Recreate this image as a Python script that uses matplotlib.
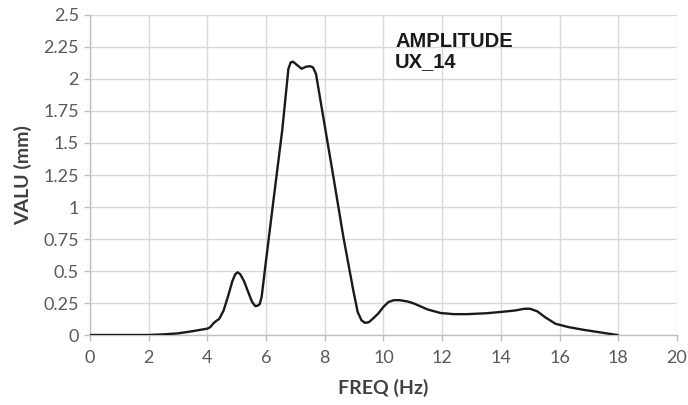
import numpy as np
import matplotlib
matplotlib.use('Agg')
import matplotlib.pyplot as plt

# values
freq = [0, 1, 2, 2.5, 3, 3.5, 4, 4.1, 4.2, 4.3, 4.4, 4.55, 4.7, 4.85, 4.95, 5.03, 5.12,
        5.25, 5.4, 5.52, 5.63, 5.7, 5.78, 5.85, 5.97, 6.25, 6.55, 6.76, 6.84, 6.92,
        7.05, 7.21, 7.35, 7.5, 7.6, 7.7, 7.95, 8.29, 8.63, 8.97, 9.12, 9.25, 9.37,
        9.5, 9.65, 9.83, 10.0, 10.17, 10.35, 10.55, 10.8, 11.03, 11.5, 11.94, 12.4,
        12.85, 13.5, 13.99, 14.5, 14.8, 15.0, 15.24, 15.5, 15.86, 16.3, 16.83,
        17.4, 17.97]
amp = [0, 0, 0, 0.005, 0.013, 0.03, 0.05, 0.062, 0.09, 0.11, 0.125, 0.19, 0.3, 0.42,
       0.475, 0.49, 0.475, 0.42, 0.33, 0.26, 0.226, 0.228, 0.24, 0.30, 0.53, 1.05,
       1.6, 2.08, 2.13, 2.135, 2.11, 2.08, 2.095, 2.1, 2.09, 2.04, 1.70, 1.24, 0.77,
       0.35, 0.18, 0.115, 0.095, 0.1, 0.13, 0.17, 0.22, 0.258, 0.272, 0.272, 0.263,
       0.247, 0.2, 0.172, 0.163, 0.163, 0.17, 0.18, 0.192, 0.205, 0.205, 0.185,
       0.14, 0.088, 0.062, 0.04, 0.02, 0.0]

x_ticks = [0, 2, 4, 6, 8, 10, 12, 14, 16, 18, 20]
y_ticks = [0, 0.25, 0.5, 0.75, 1, 1.25, 1.5, 1.75, 2, 2.25, 2.5]
y_labels = ['0', '0.25', '0.5', '0.75', '1', '1.25', '1.5', '1.75', '2', '2.25', '2.5']

plt.rcParams['font.family'] = ['Lato', 'DejaVu Sans']

fig = plt.figure(figsize=(6.88, 4.05), dpi=100)
ax = fig.add_axes([0.1308, 0.1728, 0.8532, 0.7902])

ax.plot(freq, amp, color='#1a1a1a', linewidth=1.7, solid_joinstyle='round', zorder=3)

ax.set_xlim(0, 20)
ax.set_ylim(0, 2.5)
ax.set_xticks(x_ticks)
ax.set_yticks(y_ticks)
ax.set_yticklabels(y_labels)
ax.grid(True, color='#d9d9d9', linewidth=1.0)
ax.set_axisbelow(True)
for s in ['top', 'right']:
    ax.spines[s].set_visible(False)
for s in ['left', 'bottom']:
    ax.spines[s].set_color('#bfbfbf')
    ax.spines[s].set_linewidth(1.0)
ax.tick_params(axis='both', colors='#bfbfbf', labelcolor='#595959',
               labelsize=13, length=4, width=1.0)
ax.tick_params(axis='x', pad=7)
ax.tick_params(axis='y', pad=4)

ax.set_xlabel('FREQ (Hz)', fontsize=14, fontweight='bold', color='#404040', labelpad=9)
ax.set_ylabel('VALU (mm)', fontsize=14, fontweight='bold', color='#404040', labelpad=8)

ax.text(10.4, 2.37, 'AMPLITUDE\nUX_14', fontsize=14.5, fontweight='bold',
        family=['Liberation Sans', 'DejaVu Sans'], color='#1a1a1a',
        va='top', ha='left', linespacing=1.1)

fig.savefig('out.png', dpi=100)
